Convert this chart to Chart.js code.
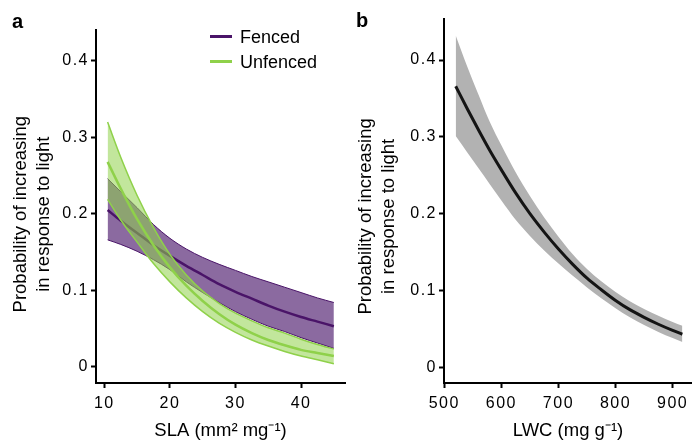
<!DOCTYPE html>
<html>
<head>
<meta charset="utf-8">
<script src="https://cdn.jsdelivr.net/npm/chart.js@4.4.1/dist/chart.umd.min.js"></script>
<style>
  html, body { margin: 0; padding: 0; background: #fff; }
  #figure { position: relative; width: 692px; height: 442px; font-family: "Liberation Sans", Arial, sans-serif; color: #000; }
  canvas { position: absolute; top: 0; }
  .panel-label { position: absolute; font-weight: bold; font-size: 20px; line-height: 1; }
  .legend-item { position: absolute; font-size: 18px; line-height: 20px; white-space: nowrap; }
  .legend-item span { display: inline-block; width: 22px; height: 3px; margin-right: 8px; vertical-align: middle; position: relative; top: -1px; }
</style>
</head>
<body>
<div id="figure">
  <canvas id="chartA" width="346" height="442" style="left:0"></canvas>
  <canvas id="chartB" width="346" height="442" style="left:346px"></canvas>
  <div class="panel-label" style="left:12px;top:11px">a</div>
  <div class="panel-label" style="left:356px;top:10px">b</div>
  <div id="legend"></div>
</div>
<script>
// values
const probTicks = [0, 0.1, 0.2, 0.3, 0.4];
const probTickLabels = ["0", "0.1", "0.2", "0.3", "0.4"];
const slaTicks = [10, 20, 30, 40];
const lwcTicks = [500, 600, 700, 800, 900];
const seriesNames = ["Fenced", "Unfenced"];

// panel a: SLA (mm2 mg-1)
const slaValues = [10.5, 12.5, 15, 17.5, 20, 22.5, 25, 27.5, 30, 32.5, 35, 37.5, 40, 42.5, 45];
const fencedMean = [0.205, 0.191, 0.175, 0.159, 0.145, 0.132, 0.120, 0.108, 0.098, 0.089, 0.080, 0.072, 0.065, 0.059, 0.053];
const fencedUpper = [0.246, 0.229, 0.208, 0.186, 0.168, 0.154, 0.143, 0.134, 0.126, 0.118, 0.111, 0.104, 0.097, 0.090, 0.084];
const fencedLower = [0.166, 0.160, 0.151, 0.140, 0.127, 0.111, 0.097, 0.084, 0.072, 0.062, 0.053, 0.046, 0.038, 0.031, 0.024];
const unfencedMean = [0.268, 0.233, 0.193, 0.159, 0.130, 0.106, 0.086, 0.069, 0.055, 0.044, 0.035, 0.028, 0.022, 0.018, 0.014];
const unfencedUpper = [0.320, 0.274, 0.224, 0.182, 0.147, 0.120, 0.099, 0.083, 0.070, 0.060, 0.051, 0.044, 0.036, 0.029, 0.023];
const unfencedLower = [0.219, 0.192, 0.163, 0.135, 0.111, 0.090, 0.072, 0.057, 0.045, 0.035, 0.027, 0.020, 0.014, 0.009, 0.004];

// panel b: LWC (mg g-1)
const lwcValues = [520, 540, 560, 580, 600, 625, 650, 675, 700, 725, 750, 775, 800, 825, 850, 875, 900, 917];
const lwcMean = [0.366, 0.337, 0.309, 0.282, 0.257, 0.227, 0.200, 0.176, 0.154, 0.134, 0.116, 0.101, 0.087, 0.075, 0.065, 0.056, 0.048, 0.043];
const lwcUpper = [0.432, 0.392, 0.355, 0.319, 0.289, 0.254, 0.223, 0.195, 0.170, 0.147, 0.128, 0.112, 0.098, 0.086, 0.076, 0.067, 0.059, 0.054];
const lwcLower = [0.301, 0.280, 0.259, 0.238, 0.217, 0.192, 0.171, 0.152, 0.135, 0.119, 0.104, 0.090, 0.077, 0.065, 0.055, 0.046, 0.038, 0.033];

const purple = "#4a1468";
const purpleFill = "#8b6aa0";
const green = "#8fd14a";
const greenFill = "rgba(143, 209, 74, 0.55)";

Chart.defaults.font.family = '"Liberation Sans", Arial, sans-serif';
Chart.defaults.color = "#000";

// tick labels in the figure are set wide
const tickSpacing = {
  id: "tickSpacing",
  afterDatasetsDraw(chart) { chart.ctx.letterSpacing = "1.5px"; },
  afterDraw(chart) { chart.ctx.letterSpacing = "0px"; }
};

function points(xs, ys) {
  return xs.map((x, i) => ({ x: x, y: ys[i] }));
}

function fixedTicks(values) {
  return function (scale) {
    scale.ticks = values.map(v => ({ value: v }));
  };
}

function xAxis(min, max, tickValues, title) {
  return {
    type: "linear",
    min: min,
    max: max,
    afterBuildTicks: fixedTicks(tickValues),
    afterFit: s => { s.height = 59; },
    border: { color: "#000", width: 2 },
    grid: { drawOnChartArea: false, tickLength: 5, tickColor: "#000", tickWidth: 2 },
    ticks: { font: { size: 16 }, padding: 6, maxRotation: 0, z: 1, callback: v => String(v) },
    title: { display: true, text: title, font: { size: 18.5 }, padding: { top: 0, bottom: 0 } }
  };
}

function yAxis(min, max, width, titleLines, titlePad) {
  return {
    type: "linear",
    min: min,
    max: max,
    afterBuildTicks: fixedTicks(probTicks),
    afterFit: s => { s.width = width; },
    border: { color: "#000", width: 2 },
    grid: { drawOnChartArea: false, tickLength: 5, tickColor: "#000", tickWidth: 2 },
    ticks: { font: { size: 16 }, padding: 2, z: 1, callback: v => probTickLabels[probTicks.indexOf(v)] },
    title: { display: true, text: titleLines, font: { size: 18.5, lineHeight: 1.26 }, padding: { top: titlePad, bottom: 0 } }
  };
}

function line(label, xs, ys, color, width, order, fillColor) {
  return {
    label: label,
    data: points(xs, ys),
    borderColor: color,
    borderWidth: width,
    backgroundColor: fillColor || "transparent",
    fill: fillColor ? "+1" : false,
    pointRadius: 0,
    cubicInterpolationMode: "monotone",
    order: order
  };
}

// trailing no-break spaces nudge the rotated titles down, as in the figure
const yTitleA = ["Probability of increasing\u00a0\u00a0\u00a0", "in response to light\u00a0\u00a0\u00a0"];
const yTitleB = ["Probability of increasing\u00a0\u00a0\u00a0\u00a0\u00a0\u00a0", "in response to light\u00a0\u00a0\u00a0\u00a0\u00a0\u00a0"];

new Chart(document.getElementById("chartA"), {
  type: "line",
  data: {
    datasets: [
      line("Fenced upper", slaValues, fencedUpper, purple, 1, 6, purpleFill),
      line("Fenced lower", slaValues, fencedLower, purple, 1, 5),
      line(seriesNames[0], slaValues, fencedMean, purple, 2.5, 4),
      line("Unfenced upper", slaValues, unfencedUpper, green, 1.5, 3, greenFill),
      line("Unfenced lower", slaValues, unfencedLower, green, 1.5, 2),
      line(seriesNames[1], slaValues, unfencedMean, green, 2.5, 1)
    ]
  },
  options: {
    responsive: false,
    animation: false,
    layout: { padding: { top: 30, right: 1, bottom: 0, left: 0 } },
    plugins: { legend: { display: false }, tooltip: { enabled: false } },
    scales: {
      x: xAxis(8.73, 46.7, slaTicks, "SLA (mm\u00b2 mg\u207b\u00b9)"),
      y: yAxis(-0.0213, 0.4405, 96, yTitleA, 9)
    }
  },
  plugins: [tickSpacing]
});

new Chart(document.getElementById("chartB"), {
  type: "line",
  data: {
    datasets: [
      line("LWC upper", lwcValues, lwcUpper, "rgba(0,0,0,0)", 0, 3, "#b2b2b2"),
      line("LWC lower", lwcValues, lwcLower, "rgba(0,0,0,0)", 0, 2),
      line("LWC", lwcValues, lwcMean, "#141414", 3, 1)
    ]
  },
  options: {
    responsive: false,
    animation: false,
    layout: { padding: { top: 19, right: 0, bottom: 0, left: 0 } },
    plugins: { legend: { display: false }, tooltip: { enabled: false } },
    scales: {
      x: xAxis(499.5, 933.8, lwcTicks, "LWC (mg g\u207b\u00b9)"),
      y: yAxis(-0.0205, 0.4535, 98, yTitleB, 8)
    }
  },
  plugins: [tickSpacing]
});

// legend for panel a
const legendColors = [purple, green];
const legend = document.getElementById("legend");
seriesNames.forEach(function (name, i) {
  const item = document.createElement("div");
  item.className = "legend-item";
  item.style.left = "210px";
  item.style.top = (26.5 + i * 25) + "px";
  item.innerHTML = '<span style="background:' + legendColors[i] + '"></span>' + name;
  legend.appendChild(item);
});
</script>
</body>
</html>
